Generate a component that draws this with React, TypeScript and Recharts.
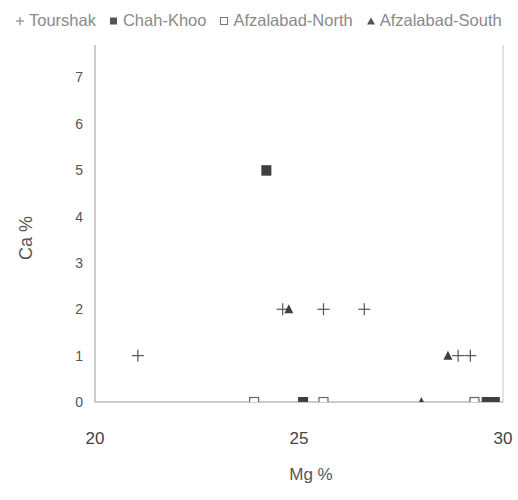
import React from 'react';
import {
  ScatterChart,
  Scatter,
  XAxis,
  YAxis,
  ReferenceLine,
} from 'recharts';

const seriesNames = ['Tourshak', 'Chah-Khoo', 'Afzalabad-North', 'Afzalabad-South'];

// [Mg %, Ca %]
const tourshak = [
  [21.05, 1],
  [24.6, 2],
  [25.6, 2],
  [26.6, 2],
  [28.9, 1],
  [29.2, 1],
];
const chahKhoo = [
  [24.2, 5],
  [25.1, 0],
  [29.6, 0],
  [29.8, 0],
];
const afzalabadNorth = [
  [23.9, 0],
  [25.6, 0],
  [29.3, 0],
];
const afzalabadSouth = [
  [24.75, 2],
  [28.0, 0],
  [28.65, 1],
];

const xTicks = [20, 25, 30];
const yTicks = [0, 1, 2, 3, 4, 5, 6, 7];

const toPoints = (arr: number[][]) => arr.map(([mg, ca]) => ({ mg, ca }));

const INK = '#3f3f3f';

const Plus = ({ cx, cy }: any) => (
  <g stroke="#555" strokeWidth={1.2}>
    <line x1={cx - 6} y1={cy} x2={cx + 6} y2={cy} />
    <line x1={cx} y1={cy - 6} x2={cx} y2={cy + 6} />
  </g>
);
const FilledSquare = ({ cx, cy }: any) => (
  <rect x={cx - 5} y={cy - 5} width={10} height={10.5} fill={INK} />
);
const OpenSquare = ({ cx, cy }: any) => (
  <rect x={cx - 4.5} y={cy - 4.5} width={9} height={9} fill="#fff" stroke="#666" strokeWidth={1.2} />
);
const Triangle = ({ cx, cy }: any) => (
  <path d={`M${cx},${cy - 5} L${cx + 4.5},${cy + 4} L${cx - 4.5},${cy + 4} Z`} fill={INK} />
);

const legendIcons = [
  <svg width={10} height={10} key="a"><g stroke="#777" strokeWidth={1}><line x1={1} y1={5} x2={9} y2={5} /><line x1={5} y1={1} x2={5} y2={9} /></g></svg>,
  <svg width={10} height={10} key="b"><rect x={1} y={1.5} width={7} height={7} fill="#555" /></svg>,
  <svg width={10} height={10} key="c"><rect x={1.5} y={1.5} width={7} height={7} fill="#fff" stroke="#777" /></svg>,
  <svg width={10} height={10} key="d"><path d="M5,1.5 L9,8.5 L1,8.5 Z" fill="#555" /></svg>,
];

export default function App() {
  return (
    <div style={{ position: 'absolute', left: 0, top: 0, width: 518, height: 500, background: '#fff', fontFamily: 'Liberation Sans, Arial, sans-serif' }}>
      <div
        style={{
          position: 'absolute',
          left: 15,
          top: 11,
          display: 'flex',
          alignItems: 'center',
          fontSize: 16.5,
          color: '#8a8a8a',
          whiteSpace: 'nowrap',
        }}
      >
        {seriesNames.map((name, i) => (
          <span key={name} style={{ display: 'flex', alignItems: 'center', marginRight: 13 }}>
            <span style={{ marginRight: 4, display: 'flex' }}>{legendIcons[i]}</span>
            {name}
          </span>
        ))}
      </div>
      <ScatterChart width={518} height={500} margin={{ top: 45, right: 15, bottom: 18, left: 55 }}>
        <XAxis
          type="number"
          dataKey="mg"
          domain={[20, 30]}
          ticks={xTicks}
          allowDataOverflow
          height={80}
          axisLine={{ stroke: '#9a9a9a' }}
          tickLine={false}
          tickMargin={24}
          tick={{ fill: '#444', fontSize: 17 }}
          label={{ value: 'Mg %', position: 'insideBottom', offset: 2, dx: 12, fill: '#555', fontSize: 17 }}
        />
        <YAxis
          type="number"
          dataKey="ca"
          domain={[0, 7.7]}
          ticks={yTicks}
          allowDataOverflow
          width={40}
          axisLine={{ stroke: '#9a9a9a' }}
          tickLine={false}
          tickMargin={6}
          tick={{ fill: '#555', fontSize: 14 }}
          label={() => (
            <text x={32} y={238} transform="rotate(-90 32 238)" textAnchor="middle" fill="#555" fontSize={18}>
              Ca %
            </text>
          )}
        />
        <ReferenceLine x={30} stroke="#c4c4c4" />
        <Scatter name={seriesNames[0]} data={toPoints(tourshak)} shape={Plus} isAnimationActive={false} />
        <Scatter name={seriesNames[1]} data={toPoints(chahKhoo)} shape={FilledSquare} isAnimationActive={false} />
        <Scatter name={seriesNames[2]} data={toPoints(afzalabadNorth)} shape={OpenSquare} isAnimationActive={false} />
        <Scatter name={seriesNames[3]} data={toPoints(afzalabadSouth)} shape={Triangle} isAnimationActive={false} />
      </ScatterChart>
    </div>
  );
}
